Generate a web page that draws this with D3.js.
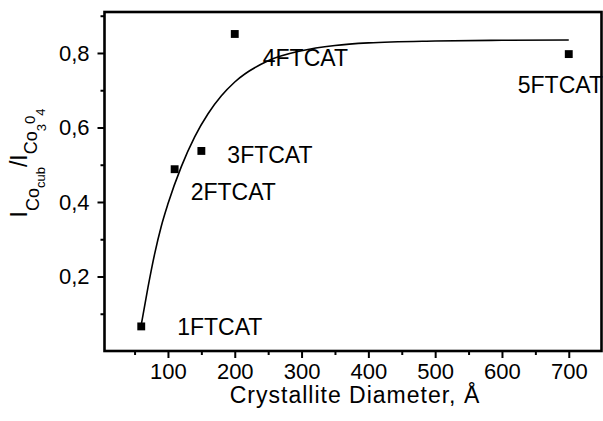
<!DOCTYPE html>
<html>
<head>
<meta charset="utf-8">
<script src="https://cdn.jsdelivr.net/npm/d3@7"></script>
<style>
  html, body { margin: 0; padding: 0; background: #fff; }
  svg { display: block; }
  text { font-family: "Liberation Sans", Arial, Helvetica, sans-serif; fill: #000; }
</style>
</head>
<body>
<svg id="chart" width="603" height="421"></svg>
<script>
// Samples and their measured intensity ratio
const samples = ["1FTCAT", "2FTCAT", "3FTCAT", "4FTCAT", "5FTCAT"];
const diameters = [60, 110, 150, 200, 700];
const ratios = [0.066, 0.488, 0.537, 0.851, 0.797];

// Fitted saturation curve, sampled along the diameter axis
const fitDiameters = [60, 70, 80, 90, 100, 120, 140, 160, 180, 200, 250, 300, 350, 400, 500, 600, 700];
const fitRatios = [0.07, 0.17, 0.26, 0.335, 0.395, 0.495, 0.575, 0.637, 0.685, 0.722, 0.779, 0.806, 0.82, 0.827, 0.832, 0.834, 0.835];

// Axis ticks
const xMajorTicks = [100, 200, 300, 400, 500, 600, 700];
const xMinorTicks = [50, 150, 250, 350, 450, 550, 650];
const yMajorTicks = [0.2, 0.4, 0.6, 0.8];
const yMinorTicks = [0.1, 0.3, 0.5, 0.7, 0.9];

// Label placement relative to each marker (pixels)
const labelOffsets = [[36, 0], [16, 23], [26, 4], [28, 24], [-51, 31]];

const svg = d3.select("#chart");
const plot = { left: 104.5, right: 601.5, top: 12, bottom: 351 };

const x = d3.scaleLinear().domain([5, 749]).range([plot.left, plot.right]);
const y = d3.scaleLinear().domain([0, 0.91]).range([plot.bottom, plot.top]);

const fmt = d => d3.format(".1f")(d).replace(".", ",");

// Bottom axis: major ticks with labels, minor ticks without
svg.append("g").attr("transform", `translate(0,${plot.bottom})`)
  .call(d3.axisBottom(x).tickValues(xMajorTicks).tickSize(7).tickPadding(5).tickSizeOuter(0));
svg.append("g").attr("transform", `translate(0,${plot.bottom})`)
  .call(d3.axisBottom(x).tickValues(xMinorTicks).tickSize(4).tickFormat(""));

// Left axis
svg.append("g").attr("transform", `translate(${plot.left},0)`)
  .call(d3.axisLeft(y).tickValues(yMajorTicks).tickSize(7).tickPadding(8).tickFormat(fmt).tickSizeOuter(0));
svg.append("g").attr("transform", `translate(${plot.left},0)`)
  .call(d3.axisLeft(y).tickValues(yMinorTicks).tickSize(4).tickFormat(""));

svg.selectAll(".domain").remove();
svg.selectAll(".tick line").attr("stroke", "#000").attr("stroke-width", 2);
svg.selectAll(".tick text").style("font-size", "22px").attr("fill", "#000");

// Fitted curve
const line = d3.line().x((d, i) => x(fitDiameters[i])).y(d => y(d)).curve(d3.curveMonotoneX);
svg.append("path").datum(fitRatios)
  .attr("d", line)
  .attr("fill", "none").attr("stroke", "#000").attr("stroke-width", 1.6);

// Markers
svg.append("g").selectAll("path").data(ratios).join("path")
  .attr("d", d3.symbol().type(d3.symbolSquare).size(62))
  .attr("transform", (d, i) => `translate(${x(diameters[i])},${y(d)})`)
  .attr("fill", "#000");

// Sample labels
svg.append("g").selectAll("text").data(samples).join("text")
  .attr("x", (d, i) => x(diameters[i]) + labelOffsets[i][0])
  .attr("y", (d, i) => y(ratios[i]) + labelOffsets[i][1])
  .attr("dy", "0.36em")
  .style("font-size", "23px")
  .text(d => d);

// Frame
svg.append("rect")
  .attr("x", plot.left).attr("y", plot.top)
  .attr("width", plot.right - plot.left).attr("height", plot.bottom - plot.top)
  .attr("fill", "none").attr("stroke", "#000").attr("stroke-width", 2.6);

// X axis title
svg.append("text")
  .attr("x", (plot.left + plot.right) / 2 + 2).attr("y", 403)
  .attr("text-anchor", "middle")
  .style("font-size", "23px")
  .style("letter-spacing", "1px")
  .text("Crystallite Diameter, Å");

// Y axis title with nested subscripts
const yt = svg.append("text")
  .attr("transform", "translate(27,163) rotate(-90)")
  .attr("text-anchor", "middle")
  .style("font-size", "23px");
yt.append("tspan").text("I");
yt.append("tspan").attr("dy", 12).style("font-size", "18px").text("Co");
yt.append("tspan").attr("dy", 6).style("font-size", "13px").text("cub");
yt.append("tspan").attr("dy", -18).style("font-size", "23px").text("/I");
yt.append("tspan").attr("dy", 10).style("font-size", "18px").text("Co");
yt.append("tspan").attr("dy", 9).style("font-size", "13px").text("3");
yt.append("tspan").attr("dy", -11).style("font-size", "15px").text("0");
yt.append("tspan").attr("dy", 10).style("font-size", "13px").text("4");
</script>
</body>
</html>
